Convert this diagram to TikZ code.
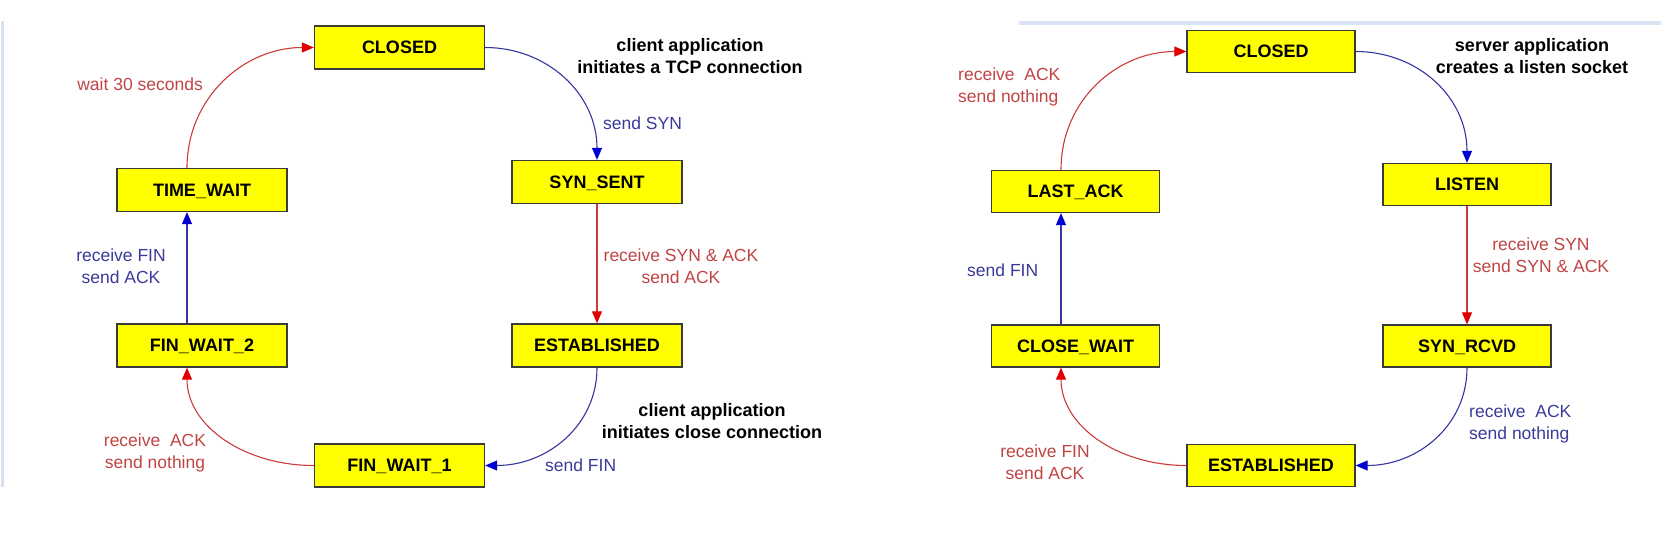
\documentclass[tikz,border=0pt]{standalone}
\usepackage{fontspec}
\setmainfont{Liberation Sans}
\usetikzlibrary{arrows.meta}
\definecolor{boxfill}{HTML}{FFFF00}
\definecolor{boxline}{HTML}{3A3A3A}
\definecolor{redline}{HTML}{CC3A3A}
\definecolor{redhead}{HTML}{E00000}
\definecolor{blueline}{HTML}{3535A0}
\definecolor{bluehead}{HTML}{0000D0}
\definecolor{redtext}{HTML}{C04444}
\definecolor{bluetext}{HTML}{3A3A9A}
\definecolor{edgegray}{HTML}{D9E1EA}
\definecolor{edgeblue}{HTML}{D6E4F4}
\begin{document}
\begin{tikzpicture}[x=1pt,y=-1pt,
  state/.style={draw=boxline, fill=boxfill, line width=1.3pt, minimum height=43pt,
    inner sep=0pt, text height=12.9pt, text depth=0pt,
    font=\fontsize{18}{22}\selectfont\bfseries},
  leftbox/.style={state, minimum width=170pt},
  rightbox/.style={state, minimum width=168pt, minimum height=42pt},
  redarrow/.style={draw=redline, line width=1.1pt,
    -{Triangle[length=12pt,width=10pt,color=redhead]}},
  bluearrow/.style={draw=blueline, line width=1.1pt,
    -{Triangle[length=12pt,width=10pt,color=bluehead]}},
  redlabel/.style={text=redtext, font=\fontsize{17.5}{22}\selectfont, inner sep=0pt, align=center},
  bluelabel/.style={text=bluetext, font=\fontsize{17.5}{22}\selectfont, inner sep=0pt, align=center},
  note/.style={font=\fontsize{18}{22}\selectfont\bfseries, inner sep=0pt, align=center}]

\useasboundingbox (0,0) rectangle (1661,538);

% faint screenshot edges
\fill[edgegray] (1,21) rectangle (4,487);
\fill[edgeblue] (1019,21) rectangle (1661,25);

% ---------- client side ----------
\node[leftbox] (lclosed) at (399.5,47.5) {CLOSED};
\node[leftbox] (ltw) at (202,190) {TIME\_WAIT};
\node[leftbox] (lss) at (597,182) {SYN\_SENT};
\node[leftbox] (lfw2) at (202,345.5) {FIN\_WAIT\_2};
\node[leftbox] (lest) at (597,345.5) {ESTABLISHED};
\node[leftbox] (lfw1) at (399.5,465.5) {FIN\_WAIT\_1};

\draw[redarrow] ([xshift=-15pt]ltw.north) .. controls +(0,-70) and +(-70,0) .. (lclosed.west);
\draw[bluearrow] (lclosed.east) .. controls +(62,0) and +(0,-66) .. (lss.north);
\draw[redarrow] (lss.south) -- (lest.north);
\draw[bluearrow] (lest.south) .. controls +(0,58) and +(62,0) .. (lfw1.east);
\draw[redarrow] (lfw1.west) .. controls +(-70,0) and +(0,58) .. ([xshift=-15pt]lfw2.south);
\draw[bluearrow] ([xshift=-15pt]lfw2.north) -- ([xshift=-15pt]ltw.south);

\node[redlabel, anchor=east] (lwait) at (203,84) {wait 30 seconds};
\node[note] (lnote1) at (690,56) {client application\\initiates a TCP connection};
\node[bluelabel, anchor=west] (lsyn) at (603,123) {send SYN};
\node[redlabel] (lrsa) at (681,266) {receive SYN \& ACK\\send ACK};
\node[bluelabel] (lrfin) at (121,266) {receive FIN\\send ACK};
\node[redlabel] (lrack) at (155,452.5) {receive\ \ ACK\\send nothing};
\node[note] (lnote2) at (712,421.5) {client application\\initiates close connection};
\node[bluelabel, anchor=west] (lfin) at (545,465) {send FIN};

% ---------- server side ----------
\node[rightbox] (rclosed) at (1271,51.5) {CLOSED};
\node[rightbox] (rla) at (1075.5,191.5) {LAST\_ACK};
\node[rightbox] (rli) at (1467,184.5) {LISTEN};
\node[rightbox] (rcw) at (1075.5,346) {CLOSE\_WAIT};
\node[rightbox] (rsr) at (1467,346) {SYN\_RCVD};
\node[rightbox] (rest) at (1271,465.5) {ESTABLISHED};

\draw[redarrow] ([xshift=-14.5pt]rla.north) .. controls +(0,-70) and +(-69,0) .. (rclosed.west);
\draw[bluearrow] (rclosed.east) .. controls +(62,0) and +(0,-66) .. (rli.north);
\draw[redarrow] (rli.south) -- (rsr.north);
\draw[bluearrow] (rsr.south) .. controls +(0,58) and +(62,0) .. (rest.east);
\draw[redarrow] (rest.west) .. controls +(-69,0) and +(0,58) .. ([xshift=-14.5pt]rcw.south);
\draw[bluearrow] ([xshift=-14.5pt]rcw.north) -- ([xshift=-14.5pt]rla.south);

\node[redlabel, anchor=west, align=left] (rrack) at (958,87) {receive\ \ ACK\\send nothing};
\node[note] (rnote) at (1532,56) {server application\\creates a listen socket};
\node[bluelabel, anchor=west] (rsfin) at (967,270) {send FIN};
\node[redlabel] (rrsyn) at (1541,255) {receive SYN\\send SYN \& ACK};
\node[bluelabel, anchor=west, align=left] (rrack2) at (1469,424) {receive\ \ ACK\\send nothing};
\node[redlabel] (rrfin) at (1045,462) {receive FIN\\send ACK};
\end{tikzpicture}
\end{document}
